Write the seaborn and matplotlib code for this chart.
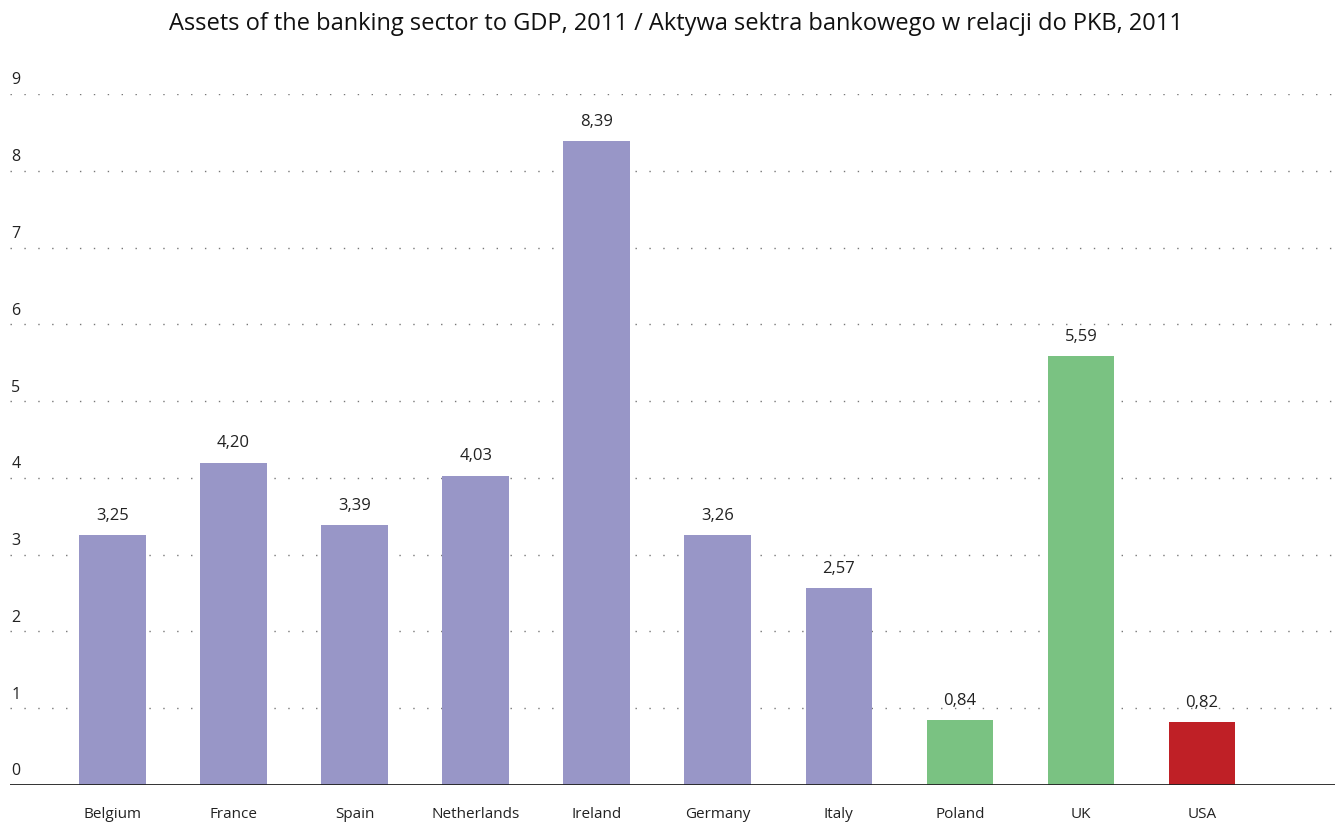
import seaborn as sns
import matplotlib.pyplot as plt
import pandas as pd

# Data
countries = ["Belgium", "France", "Spain", "Netherlands", "Ireland",
             "Germany", "Italy", "Poland", "UK", "USA"]
assets_to_gdp = [3.25, 4.20, 3.39, 4.03, 8.39, 3.26, 2.57, 0.84, 5.59, 0.82]
bar_colors = ["#9896c7"] * 7 + ["#7ac282", "#7ac282", "#bf2026"]
y_ticks = [0, 1, 2, 3, 4, 5, 6, 7, 8, 9]

df = pd.DataFrame({"country": countries, "value": assets_to_gdp})

sns.set_style("white")
plt.rcParams["font.family"] = ["Open Sans", "DejaVu Sans"]

fig = plt.figure(figsize=(13.38, 8.23), dpi=100)
ax = fig.add_axes([0.0075, 0.0462, 0.9903, 0.8396])

sns.barplot(data=df, x="country", y="value", hue="country",
            palette=bar_colors, width=0.55, legend=False, saturation=1,
            linewidth=0, ax=ax)

ax.set_xlim(-0.847, 10.1)
ax.set_ylim(0, 9)

# dotted gridlines + labels sitting above them
for t in y_ticks:
    if t > 0:
        ax.axhline(t, color="#777777", linestyle=(0, (1, 9)), linewidth=1.0, zorder=0)
    ax.annotate(str(t), xy=(0.0, t), xycoords=("axes fraction", "data"),
                xytext=(1, 4), textcoords="offset points",
                ha="left", va="bottom", fontsize=11.5, color="#222222")

ax.axhline(0, color="#222222", linewidth=1.3, zorder=3)

for i, v in enumerate(assets_to_gdp):
    ax.annotate(f"{v:.2f}".replace(".", ","), xy=(i, v), xytext=(0, 8),
                textcoords="offset points", ha="center", va="bottom",
                fontsize=12, color="#222222")

ax.set_yticks([])
ax.set_xlabel("")
ax.set_ylabel("")
ax.tick_params(axis="x", length=0, pad=16, labelsize=11, labelcolor="#222222")
sns.despine(ax=ax, left=True, bottom=True)

fig.suptitle("Assets of the banking sector to GDP, 2011 / Aktywa sektra bankowego w relacji do PKB, 2011",
             x=0.505, y=0.985, fontsize=17, color="#111111")

fig.savefig("out.png", dpi=100)
